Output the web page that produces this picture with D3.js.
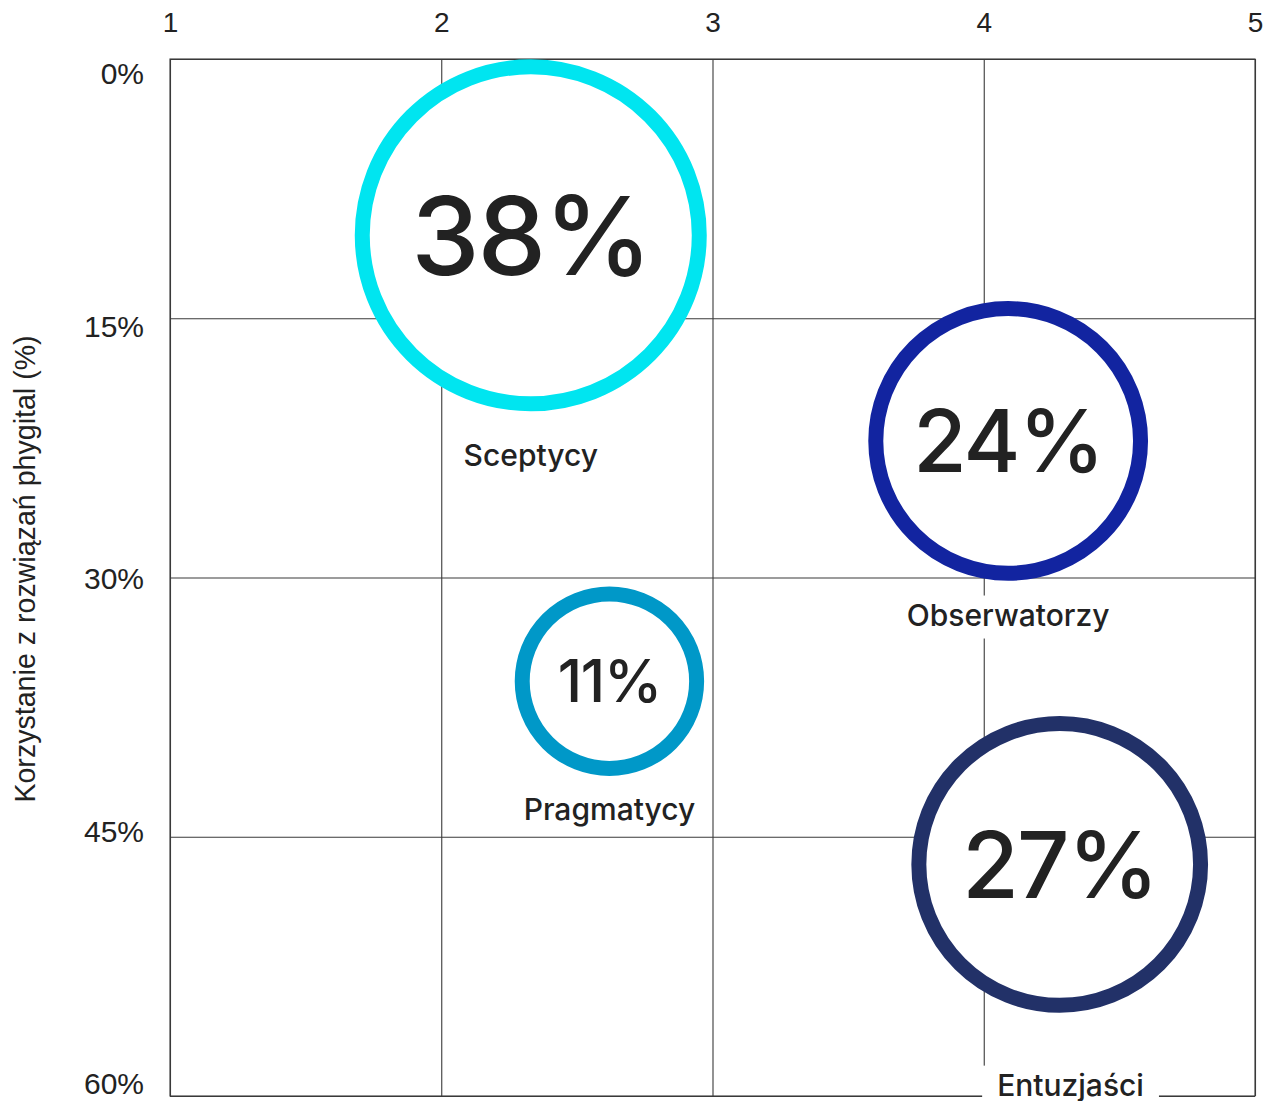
<!DOCTYPE html>
<html>
<head>
<meta charset="utf-8">
<script src="https://cdn.jsdelivr.net/npm/d3@7"></script>
<style>
  html, body { margin: 0; padding: 0; background: #fff; }
  svg { display: block; }
</style>
</head>
<body>
<svg id="chart" width="1273" height="1101"></svg>
<script>
// ---- data ----
const categories = ["Sceptycy", "Obserwatorzy", "Pragmatycy", "Entuzjaści"];
const shares = [38, 24, 11, 27];                 // segment size (%)
const xValues = [2.33, 4.09, 2.62, 4.28];        // position on 1–5 scale
const yValues = [10.2, 22.1, 36.0, 46.6];        // phygital usage (%)
const labelXValues = [2.33, 4.09, 2.62, 4.32];   // label anchor (1–5 scale)
const labelYValues = [22.9, 32.2, 43.4, 59.4];   // label anchor (%)
const xTicks = [1, 2, 3, 4, 5];
const yTicks = [0, 15, 30, 45, 60];
const yTickLabels = ["0%", "15%", "30%", "45%", "60%"];
const yAxisTitle = "Korzystanie z rozwiązań phygital (%)";
const colors = ["#00E5F0", "#1224A0", "#0098C8", "#223168"];

// ---- layout ----
const svg = d3.select("#chart");
const x = d3.scaleLinear().domain([1, 5]).range([170, 1255]);
const y = d3.scaleLinear().domain([0, 60]).range([59, 1096]);
const yLab = d3.scaleLinear().domain([0, 60]).range([74, 1084]);
const r = d3.scaleSqrt().domain([0, 38]).range([0, 176]);
const strokeW = 15;
const gridColor = "#3a3a3a";
const textColor = "#222222";
const axisFont = "'Liberation Sans', Arial, Helvetica, sans-serif";
const labelFont = "Inter, 'Noto Sans', sans-serif";

// vertical gridlines + top tick labels
const gx = svg.append("g")
  .attr("transform", `translate(0,${y(0)})`)
  .call(d3.axisTop(x).tickValues(xTicks).tickFormat(d3.format("d"))
    .tickSize(-(y(60) - y(0))).tickPadding(27));
gx.select(".domain").remove();
gx.selectAll(".tick line").attr("stroke", gridColor).attr("stroke-width", 1.1);
gx.selectAll(".tick text")
  .attr("fill", textColor).attr("font-family", axisFont).attr("font-size", 28);

// horizontal gridlines
const gy = svg.append("g")
  .attr("transform", `translate(${x(1)},0)`)
  .call(d3.axisLeft(y).tickValues(yTicks).tickFormat("").tickSize(-(x(5) - x(1))));
gy.select(".domain").remove();
gy.selectAll(".tick line").attr("stroke", gridColor).attr("stroke-width", 1.1);
gy.selectAll(".tick text").remove();

// border
svg.append("rect")
  .attr("x", x(1)).attr("y", y(0))
  .attr("width", x(5) - x(1)).attr("height", y(60) - y(0))
  .attr("fill", "none").attr("stroke", gridColor).attr("stroke-width", 1.1);

// left tick labels
const gyl = svg.append("g")
  .attr("transform", `translate(${x(1)},0)`)
  .call(d3.axisLeft(yLab).tickValues(yTicks)
    .tickFormat((d, i) => yTickLabels[i]).tickSize(0).tickPadding(26));
gyl.select(".domain").remove();
gyl.selectAll(".tick text")
  .attr("fill", textColor).attr("font-family", axisFont).attr("font-size", 30);

// y axis title
svg.append("text")
  .attr("transform", `translate(35,${(335 + 803) / 2}) rotate(-90)`)
  .attr("text-anchor", "middle")
  .attr("fill", textColor).attr("font-family", axisFont).attr("font-size", 28.6)
  .text(yAxisTitle);

// bubbles
const data = categories.map((c, i) => ({
  name: c, share: shares[i], xv: xValues[i], yv: yValues[i],
  lx: labelXValues[i], ly: labelYValues[i], color: colors[i]
}));

const numSize = d => r(d.share) * 0.62;
const bubbles = svg.append("g").selectAll("g").data(data).join("g");
bubbles.append("circle")
  .attr("cx", d => x(d.xv)).attr("cy", d => y(d.yv))
  .attr("r", d => r(d.share) - strokeW / 2)
  .attr("fill", "#fff").attr("stroke", d => d.color).attr("stroke-width", strokeW);
bubbles.append("text")
  .attr("x", d => x(d.xv))
  .attr("y", d => y(d.yv) + 0.36 * numSize(d))
  .attr("text-anchor", "middle")
  .attr("fill", textColor).attr("font-family", labelFont).attr("font-weight", 500)
  .attr("letter-spacing", "-0.02em")
  .attr("font-size", numSize)
  .text(d => d.share + "%");

// category labels with white backing
const labels = svg.append("g").selectAll("g").data(data).join("g");
const labelSize = 30;
labels.append("rect").attr("fill", "#fff");
labels.append("text")
  .attr("x", d => x(d.lx))
  .attr("y", d => y(d.ly) + 0.36 * labelSize)
  .attr("text-anchor", "middle")
  .attr("fill", textColor).attr("font-family", labelFont).attr("font-weight", 500)
  .attr("font-size", labelSize)
  .text(d => d.name);
labels.each(function(d) {
  const g = d3.select(this);
  const w = g.select("text").node().getComputedTextLength();
  g.select("rect")
    .attr("x", x(d.lx) - w / 2 - 15).attr("width", w + 30)
    .attr("y", y(d.ly) - 20).attr("height", 43);
});
</script>
</body>
</html>
